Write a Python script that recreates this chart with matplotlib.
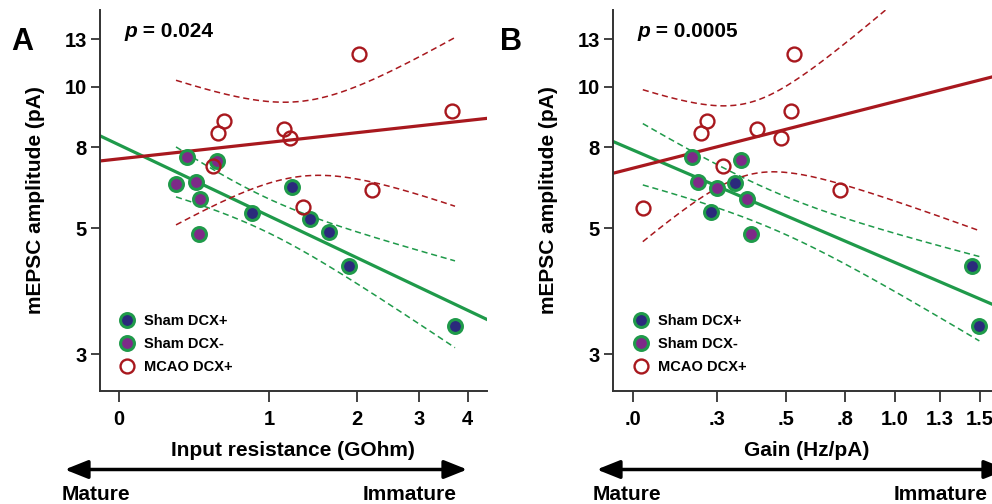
import numpy as np
import matplotlib
matplotlib.use("Agg")
import matplotlib.pyplot as plt
from matplotlib.patches import FancyArrowPatch

plt.rcParams['font.family'] = ['Liberation Sans', 'DejaVu Sans']
plt.rcParams['font.weight'] = 'bold'

# ---- data ----
# panel A: input resistance (GOhm) vs mEPSC amplitude (pA)
a_dcxp_x = [0.850, 1.223, 1.415, 1.640, 1.891, 3.717]
a_dcxp_y = [5.40, 6.15, 5.24, 4.90, 4.11, 2.95]
a_dcxm_x = [0.367, 0.301, 0.427, 0.453, 0.570, 0.449]
a_dcxm_y = [7.16, 6.26, 6.31, 5.80, 7.02, 4.85]
a_mcao_x = [0.577, 0.626, 1.142, 1.202, 0.541, 1.335, 2.028, 2.216, 3.645]
a_mcao_y = [8.02, 8.52, 8.17, 7.85, 6.84, 5.57, 11.66, 6.07, 8.93]

# panel B: gain (Hz/pA) vs mEPSC amplitude (pA)
b_dcxp_x = [0.309, 0.231, 1.447, 1.498]
b_dcxp_y = [6.28, 5.43, 4.11, 2.95]
b_dcxm_x = [0.170, 0.330, 0.188, 0.249, 0.351, 0.368]
b_dcxm_y = [7.16, 7.04, 6.33, 6.14, 5.80, 4.85]
b_mcao_x = [0.027, 0.198, 0.218, 0.268, 0.390, 0.478, 0.518, 0.530, 0.729]
b_mcao_y = [5.56, 8.02, 8.51, 6.85, 8.17, 7.85, 8.92, 11.66, 6.07]

y_ticks = [2.5, 5, 7.5, 10, 12.5]
y_ticklabels = ['3', '5', '8', '10', '13']
a_xticks = [0, 1, 2, 3, 4]
a_xticklabels = ['0', '1', '2', '3', '4']
b_xticks = [0, 0.25, 0.5, 0.75, 1.0, 1.25, 1.5]
b_xticklabels = ['.0', '.3', '.5', '.8', '1.0', '1.3', '1.5']

p_text = ['0.024', '0.0005']

# t critical values (95%, two sided) by degrees of freedom
t_crit = {6: 2.447, 7: 2.365, 8: 2.306, 9: 2.262, 10: 2.228, 11: 2.201, 12: 2.179}

GREEN = '#1f9a4a'
NAVY = '#2b2a7c'
PURPLE = '#7e2a88'
RED = '#a8181e'


def fwd(v):
    return np.log10(np.asarray(v, dtype=float) + 1)


def inv(v):
    return 10 ** np.asarray(v, dtype=float) - 1


def fit_and_band(ax, xs, ys, xlim, xr, color):
    X = fwd(xs)
    Y = fwd(ys)
    n = len(X)
    b, a = np.polyfit(X, Y, 1)
    res = Y - (a + b * X)
    s = np.sqrt(np.sum(res ** 2) / (n - 2))
    sxx = np.sum((X - X.mean()) ** 2)
    xl = np.linspace(fwd(xlim[0]), fwd(xlim[1]), 200)
    ax.plot(inv(xl), inv(a + b * xl), color=color, lw=2.3, zorder=2)
    xb = np.linspace(fwd(xr[0]), fwd(xr[1]), 200)
    se = s * np.sqrt(1.0 / n + (xb - X.mean()) ** 2 / sxx)
    t = t_crit[n - 2]
    for sign in (1, -1):
        ax.plot(inv(xb), inv(a + b * xb + sign * t * se), color=color, lw=1.1,
                ls=(0, (4, 2.5)), zorder=2)


fig = plt.figure(figsize=(9.92, 5.04), dpi=100)
axA = fig.add_axes([100 / 992, 113 / 504, 386.7 / 992, 381 / 504])
axB = fig.add_axes([613.3 / 992, 113 / 504, 386.7 / 992, 381 / 504])

panels = [
    (axA, a_dcxp_x, a_dcxp_y, a_dcxm_x, a_dcxm_y, a_mcao_x, a_mcao_y,
     (-0.084, 4.46), a_xticks, a_xticklabels, 'Input resistance (GOhm)'),
    (axB, b_dcxp_x, b_dcxp_y, b_dcxm_x, b_dcxm_y, b_mcao_x, b_mcao_y,
     (-0.05, 1.638), b_xticks, b_xticklabels, 'Gain (Hz/pA)'),
]

for i, (ax, px, py, mx, my, cx, cy, xlim, xt, xtl, xlabel) in enumerate(panels):
    ax.set_xscale('function', functions=(fwd, inv))
    ax.set_yscale('function', functions=(fwd, inv))
    ax.set_xlim(*xlim)
    ax.set_ylim(1.99, 14.29)

    sham_x = px + mx
    sham_y = py + my
    all_x = sham_x + cx
    xr = (min(all_x), max(all_x))
    fit_and_band(ax, sham_x, sham_y, xlim, xr, GREEN)
    fit_and_band(ax, cx, cy, xlim, xr, RED)

    ax.plot(px, py, 'o', ms=10, mfc=NAVY, mec=GREEN, mew=2.2, label='Sham DCX+', zorder=3)
    ax.plot(mx, my, 'o', ms=10, mfc=PURPLE, mec=GREEN, mew=2.2, label='Sham DCX-', zorder=3)
    ax.plot(cx, cy, 'o', ms=10, mfc='none', mec=RED, mew=1.7, label='MCAO DCX+', zorder=4)

    ax.set_yticks(y_ticks)
    ax.set_yticklabels(y_ticklabels)
    ax.set_xticks(xt)
    ax.set_xticklabels(xtl)
    ax.minorticks_off()
    for sp in ['top', 'right']:
        ax.spines[sp].set_visible(False)
    for sp in ['left', 'bottom']:
        ax.spines[sp].set_linewidth(1.4)
        ax.spines[sp].set_color('#333333')
    ax.tick_params(axis='y', length=6.5, width=1.3, color='#333333', labelsize=14.5, pad=3)
    ax.tick_params(axis='x', length=8, width=1.3, color='#333333', labelsize=14.5, pad=6)
    for lab in ax.get_xticklabels() + ax.get_yticklabels():
        lab.set_fontweight('bold')

    ax.set_xlabel(xlabel, fontsize=15, fontweight='bold', labelpad=8)
    ax.set_ylabel('mEPSC amplitude (pA)', fontsize=15, fontweight='bold')
    ax.yaxis.set_label_coords(-0.142, 0.5)

    leg = ax.legend(loc='lower left', bbox_to_anchor=(0.022, 0.018), frameon=False,
                    prop={'weight': 'bold', 'size': 10.5}, handletextpad=0.55,
                    labelspacing=0.62, borderaxespad=0.3, handlelength=1.2)

    t1 = ax.text(0.062, 0.93, 'p', transform=ax.transAxes, fontsize=15,
                 fontweight='bold', style='italic', va='baseline')
    ax.annotate(' = ' + p_text[i], xy=(1, 0), xycoords=t1, va='bottom',
                fontsize=15, fontweight='bold')

# panel letters
fig.text(11 / 992, 1 - 50 / 504, 'A', fontsize=22, fontweight='bold', va='baseline')
fig.text(500 / 992, 1 - 50 / 504, 'B', fontsize=22, fontweight='bold', va='baseline')

# maturity arrows
for x0, x1, xm, xi in [(62, 470, 62, 457), (594, 1010, 593, 988)]:
    arr = FancyArrowPatch((x0 / 992, 1 - 469.5 / 504), (x1 / 992, 1 - 469.5 / 504),
                          transform=fig.transFigure,
                          arrowstyle='<|-|>,head_length=1.0,head_width=0.4',
                          mutation_scale=14, lw=2.5, color='black')
    fig.add_artist(arr)
    fig.text(xm / 992, 1 - 494 / 504, 'Mature', fontsize=15, fontweight='bold', va='center', ha='left')
    fig.text(xi / 992, 1 - 494 / 504, 'Immature', fontsize=15, fontweight='bold', va='center', ha='right')

fig.savefig('out.png', dpi=100)
